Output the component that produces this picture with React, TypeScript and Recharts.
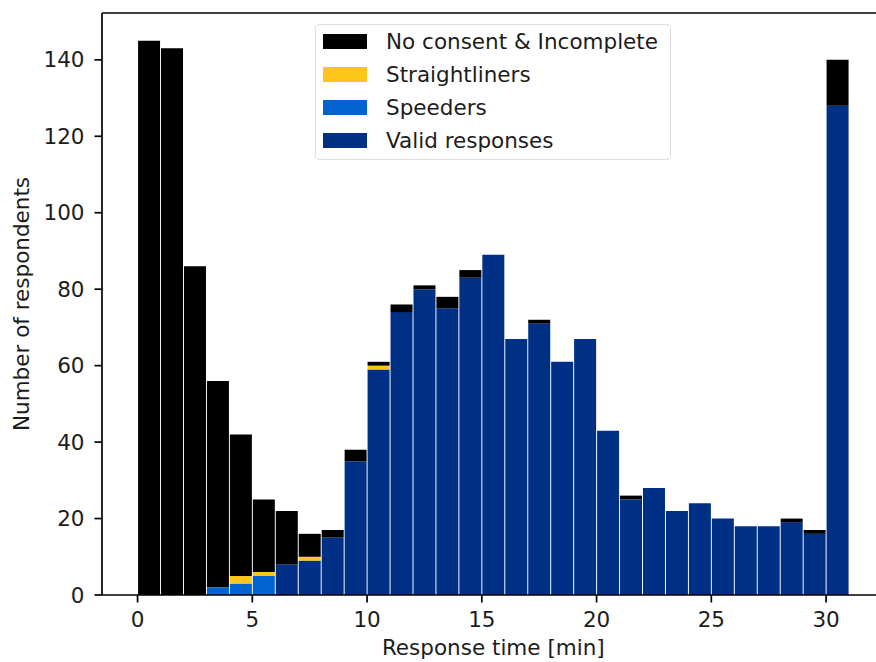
import { BarChart, Bar, XAxis, YAxis, Legend, ReferenceLine, Label } from 'recharts';

// histogram bins are 1 min wide, starting at 0 .. 30
const binStarts = [0, 1, 2, 3, 4, 5, 6, 7, 8, 9, 10, 11, 12, 13, 14, 15, 16, 17, 18, 19, 20, 21, 22, 23, 24, 25, 26, 27, 28, 29, 30];

const validResponses = [0, 0, 0, 0, 0, 0, 8, 9, 15, 35, 59, 74, 80, 75, 83, 89, 67, 71, 61, 67, 43, 25, 28, 22, 24, 20, 18, 18, 19, 16, 128];
const speeders = [0, 0, 0, 2, 3, 5, 0, 0, 0, 0, 0, 0, 0, 0, 0, 0, 0, 0, 0, 0, 0, 0, 0, 0, 0, 0, 0, 0, 0, 0, 0];
const straightliners = [0, 0, 0, 0, 2, 1, 0, 1, 0, 0, 1, 0, 0, 0, 0, 0, 0, 0, 0, 0, 0, 0, 0, 0, 0, 0, 0, 0, 0, 0, 0];
const noConsent = [145, 143, 86, 54, 37, 19, 14, 6, 2, 3, 1, 2, 1, 3, 2, 0, 0, 1, 0, 0, 0, 1, 0, 0, 0, 0, 0, 0, 1, 1, 12];

const xTicks = [0, 5, 10, 15, 20, 25, 30];
const yTicks = [0, 20, 40, 60, 80, 100, 120, 140];

// bottom to top in the stack
const series = [
  { key: 'valid', name: 'Valid responses', color: '#002F86' },
  { key: 'speeders', name: 'Speeders', color: '#0063D1' },
  { key: 'straight', name: 'Straightliners', color: '#FFC61A' },
  { key: 'noConsent', name: 'No consent & Incomplete', color: '#000000' },
];

const data = binStarts.map((b, i) => ({
  t: b + 0.5,
  valid: validResponses[i],
  speeders: speeders[i],
  straight: straightliners[i],
  noConsent: noConsent[i],
}));

const FONT = 'DejaVu Sans';
const FS = 21.5;
const INK = '#1c1c1c';

const LegendBox = () => (
  <div
    style={{
      boxSizing: 'border-box',
      width: 356,
      height: 136,
      border: '1px solid #dcdcdc',
      borderRadius: 4,
      background: 'rgba(255,255,255,0.8)',
      fontFamily: FONT,
      fontSize: FS,
      color: INK,
    }}
  >
    {[...series].reverse().map((s) => (
      <div key={s.key} style={{ display: 'flex', alignItems: 'center', height: 33, paddingLeft: 7 }}>
        <span style={{ width: 44, height: 15, background: s.color, display: 'inline-block' }} />
        <span style={{ marginLeft: 19, lineHeight: 1, whiteSpace: 'nowrap' }}>{s.name}</span>
      </div>
    ))}
  </div>
);

export default function App() {
  return (
    <div style={{ position: 'absolute', left: 0, top: 0, width: 876, height: 662, overflow: 'hidden', background: '#fff' }}>
      <BarChart
        width={900}
        height={662}
        data={data}
        margin={{ top: 13, right: 15.4, bottom: 7, left: 0 }}
        barCategoryGap={0.5}
        barGap={0}
      >
        <XAxis
          type="number"
          dataKey="t"
          domain={[-1.55, 32.55]}
          ticks={xTicks}
          interval={0}
          allowDataOverflow
          height={60}
          tickSize={7.5}
          tickMargin={9}
          axisLine={{ stroke: '#000', strokeWidth: 1.7 }}
          tickLine={{ stroke: '#000', strokeWidth: 1.7 }}
          tick={{ fill: INK, fontSize: FS, fontFamily: FONT }}
        >
          <Label
            value="Response time [min]"
            position="insideBottom"
            offset={0}
            style={{ fill: INK, fontSize: FS, fontFamily: FONT }}
          />
        </XAxis>
        <YAxis
          type="number"
          domain={[0, 152.25]}
          ticks={yTicks}
          interval={0}
          allowDataOverflow
          width={102}
          tickSize={7.5}
          tickMargin={10}
          axisLine={{ stroke: '#000', strokeWidth: 1.7 }}
          tickLine={{ stroke: '#000', strokeWidth: 1.7 }}
          tick={{ fill: INK, fontSize: FS, fontFamily: FONT }}
        >
          <Label
            content={({ viewBox }: any) => {
              const cx = viewBox.x + 28.5;
              const cy = viewBox.y + viewBox.height / 2;
              return (
                <text
                  x={cx}
                  y={cy}
                  transform={`rotate(-90, ${cx}, ${cy})`}
                  textAnchor="middle"
                  fill={INK}
                  fontSize={FS}
                  fontFamily={FONT}
                >
                  Number of respondents
                </text>
              );
            }}
          />
        </YAxis>
        <ReferenceLine y={152.25} stroke="#000" strokeWidth={1.7} ifOverflow="visible" />
        {series.map((s) => (
          <Bar key={s.key} dataKey={s.key} name={s.name} stackId="a" fill={s.color} isAnimationActive={false} />
        ))}
        <Legend
          layout="vertical"
          align="center"
          verticalAlign="middle"
          content={<LegendBox />}
          wrapperStyle={{ left: 315, top: 24, width: 356, height: 136 }}
        />
      </BarChart>
    </div>
  );
}
